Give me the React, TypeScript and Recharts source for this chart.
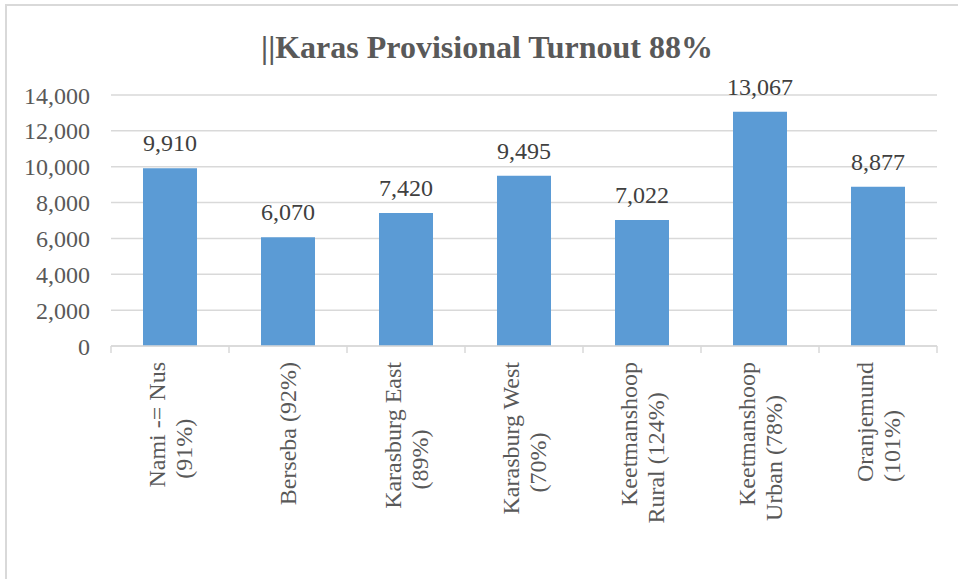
import React from 'react';
import { BarChart, Bar, XAxis, YAxis, CartesianGrid, LabelList } from 'recharts';

const categories = [
  'Nami -= Nus\n(91%)',
  'Berseba (92%)',
  'Karasburg East\n(89%)',
  'Karasburg West\n(70%)',
  'Keetmanshoop\nRural (124%)',
  'Keetmanshoop\nUrban (78%)',
  'Oranjemund\n(101%)',
];
const turnout = [9910, 6070, 7420, 9495, 7022, 13067, 8877];
const yTicks = [0, 2000, 4000, 6000, 8000, 10000, 12000, 14000];

const data = categories.map((name, i) => ({ name, value: turnout[i] }));

const W = 958;
const H = 579;
const MARGIN = { top: 95, right: 21, bottom: 0, left: 0 };
const Y_W = 111;
const X_H = 233;
const PLOT_W = W - MARGIN.left - MARGIN.right - Y_W;
const BAND = PLOT_W / categories.length;

const FONT = '"Liberation Serif", "Times New Roman", serif';
const GRID = '#d9d9d9';
const TEXT = '#595959';

let ctx: CanvasRenderingContext2D | null = null;
const measure = (s: string) => {
  if (!ctx) ctx = document.createElement('canvas').getContext('2d');
  if (!ctx) return s.length * 11;
  ctx.font = `24px ${FONT}`;
  return ctx.measureText(s).width;
};

const fmt = (v: number) => v.toLocaleString('en-US');

const CategoryTick = (props: any) => {
  const { x, y, payload, index } = props;
  const lines: string[] = String(payload.value).split('\n');
  const top = y + 16;
  const w1 = measure(lines[0]);
  return (
    <g>
      <line x1={x - BAND / 2} x2={x - BAND / 2} y1={y} y2={y + 7} stroke={GRID} strokeWidth={1.5} />
      {index === categories.length - 1 && (
        <line x1={x + BAND / 2} x2={x + BAND / 2} y1={y} y2={y + 7} stroke={GRID} strokeWidth={1.5} />
      )}
      {lines.map((line, i) => {
        const bx = x + (i - (lines.length - 1) / 2) * 27 + 8;
        const by = i === 0 ? top : top + w1 / 2 + 24;
        return (
          <text
            key={i}
            transform={`translate(${bx},${by}) rotate(-90)`}
            textAnchor={i === 0 ? 'end' : 'middle'}
            fontFamily={FONT}
            fontSize={24}
            fill={TEXT}
          >
            {line}
          </text>
        );
      })}
    </g>
  );
};

const ValueLabel = (props: any) => {
  const { x, y, width, value } = props;
  return (
    <text x={x + width / 2} y={y - 17} textAnchor="middle" fontFamily={FONT} fontSize={24} fill="#404040">
      {fmt(value)}
    </text>
  );
};

export default function App() {
  return (
    <div style={{ position: 'absolute', left: 0, top: 0, width: W, height: H, overflow: 'hidden', background: '#fff' }}>
      <div
        style={{
          position: 'absolute',
          left: 5,
          top: 4,
          width: 980,
          height: 600,
          border: `2px solid ${GRID}`,
          boxSizing: 'border-box',
        }}
      />
      <BarChart width={W} height={H} data={data} margin={MARGIN} barSize={54} style={{ position: 'absolute', left: 0, top: 0 }}>
        <text x={487} y={58} textAnchor="middle" fontFamily={FONT} fontWeight="bold" fontSize={32} fill={TEXT}>
          ||Karas Provisional Turnout 88%
        </text>
        <CartesianGrid vertical={false} stroke={GRID} strokeWidth={1.5} />
        <XAxis
          dataKey="name"
          height={X_H}
          interval={0}
          tickLine={false}
          tickSize={0}
          tickMargin={0}
          axisLine={{ stroke: GRID, strokeWidth: 1.5 }}
          tick={<CategoryTick />}
        />
        <YAxis
          width={Y_W}
          domain={[0, 14000]}
          ticks={yTicks}
          tickFormatter={fmt}
          axisLine={false}
          tickLine={false}
          tickSize={0}
          tickMargin={21}
          tick={{ fill: TEXT, fontSize: 24, fontFamily: FONT }}
        />
        <Bar dataKey="value" fill="#5b9bd5" isAnimationActive={false}>
          <LabelList dataKey="value" content={<ValueLabel />} />
        </Bar>
      </BarChart>
    </div>
  );
}
